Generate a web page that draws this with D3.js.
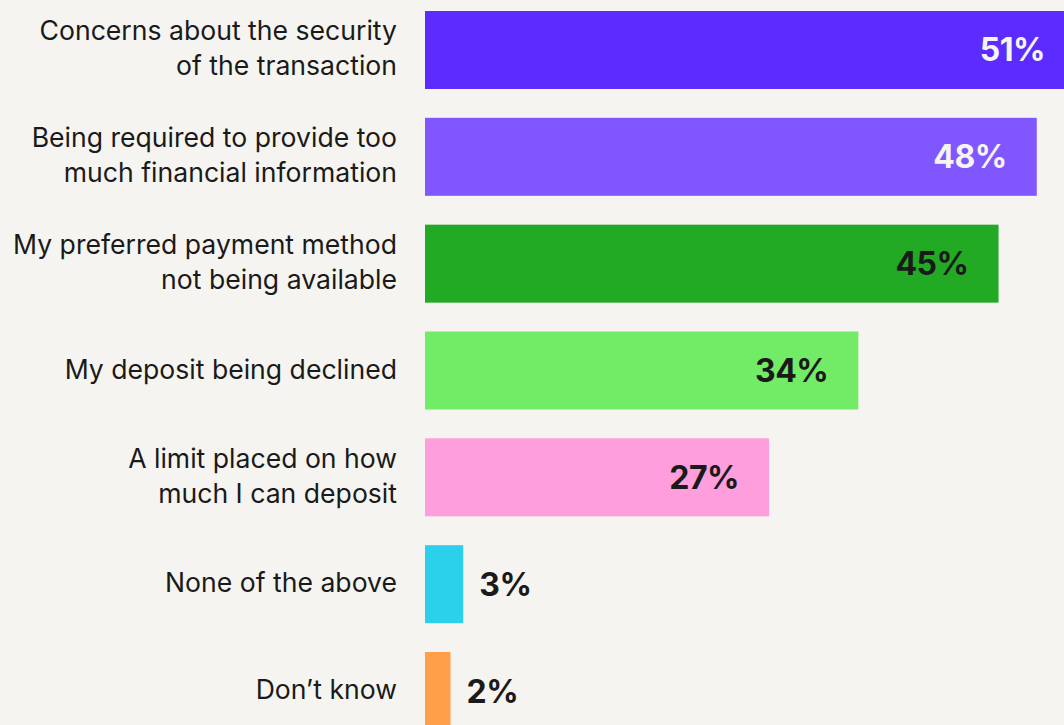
<!DOCTYPE html>
<html>
<head>
<meta charset="utf-8">
<script src="https://cdn.jsdelivr.net/npm/d3@7"></script>
<style>
  html, body { margin: 0; padding: 0; background: #f5f4f0; overflow: hidden; }
  svg { display: block; }
</style>
</head>
<body>
<svg id="chart" width="1064" height="725"></svg>
<script>
// Reasons for abandoning a deposit, share of respondents
const categories = [
  ["Concerns about the security", "of the transaction"],
  ["Being required to provide too", "much financial information"],
  ["My preferred payment method", "not being available"],
  ["My deposit being declined"],
  ["A limit placed on how", "much I can deposit"],
  ["None of the above"],
  ["Don’t know"]
];
const values = [51, 48, 45, 34, 27, 3, 2];
const barColors = ["#5b2bff", "#8056ff", "#23aa24", "#72eb66", "#ff9edc", "#2bd1ea", "#ff9f49"];
const valueColors = ["#f5f4f0", "#f5f4f0", "#1a1a1a", "#1a1a1a", "#1a1a1a", "#1a1a1a", "#1a1a1a"];

const width = 1064, height = 725;
const svg = d3.select("#chart");

const keys = categories.map((c, i) => i);
const y = d3.scaleBand().domain(keys).range([11, 730]).paddingInner(0.27).paddingOuter(0);
const x = d3.scaleLinear().domain([0, 51]).range([425, 1075]);

const rows = svg.selectAll("g.row").data(keys).join("g").attr("class", "row");

rows.append("rect")
  .attr("x", x(0))
  .attr("y", i => y(i))
  .attr("width", i => x(values[i]) - x(0))
  .attr("height", y.bandwidth())
  .attr("fill", i => barColors[i]);

// Category labels, right-aligned against the bars
rows.append("text")
  .attr("text-anchor", "end")
  .attr("font-family", "Inter, 'Noto Sans', sans-serif")
  .attr("font-size", 26.6)
  .attr("fill", "#1a1a1a")
  .each(function (i) {
    const lines = categories[i];
    const cy = y(i) + y.bandwidth() / 2;
    const lh = 35;
    const t = d3.select(this);
    lines.forEach((ln, k) => {
      t.append("tspan")
        .attr("x", 397)
        .attr("y", cy + (k - (lines.length - 1) / 2) * lh - 2)
        .attr("dominant-baseline", "central")
        .text(ln);
    });
  });

// Value labels: inside long bars, just past short ones
rows.append("text")
  .attr("font-family", "Inter, 'Noto Sans', sans-serif")
  .attr("font-weight", 700)
  .attr("font-size", 32)
  .attr("letter-spacing", -0.5)
  .attr("dominant-baseline", "central")
  .attr("fill", i => valueColors[i])
  .attr("text-anchor", i => values[i] > 10 ? "end" : "start")
  .attr("x", i => values[i] > 10 ? x(values[i]) - 30 : x(values[i]) + 16)
  .attr("y", i => y(i) + y.bandwidth() / 2)
  .text(i => values[i] + "%");
</script>
</body>
</html>
